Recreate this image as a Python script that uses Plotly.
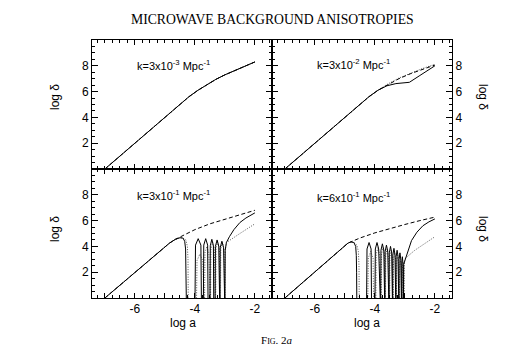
import plotly.graph_objects as go

# ---------------- data ----------------
# Top-left panel, k = 3x10^-3 Mpc^-1 (all three curves coincide)
tl_x = [-7.0, -6.0, -5.0, -4.5, -4.2, -3.9, -3.6, -3.3, -3.0, -2.5, -2.0]
tl_y = [0.0, 2.0, 4.0, 5.0, 5.6, 6.1, 6.55, 6.95, 7.3, 7.8, 8.3]

# Top-right panel, k = 3x10^-2 Mpc^-1
tr_solid_x = [-7.0, -6.0, -5.0, -4.5, -4.2, -3.9, -3.6, -3.3, -3.05, -2.85, -2.5, -2.0]
tr_solid_y = [0.0, 2.0, 4.0, 5.0, 5.6, 6.1, 6.45, 6.62, 6.7, 6.72, 7.25, 8.0]
tr_dot_x = [-7.0, -6.0, -5.0, -4.5, -4.2, -3.9, -3.6, -3.2, -2.8, -2.4, -2.0]
tr_dot_y = [0.0, 2.0, 4.0, 5.0, 5.6, 6.1, 6.55, 7.05, 7.45, 7.8, 8.12]
tr_dash_x = [-7.0, -6.0, -5.0, -4.5, -4.2, -3.9, -3.6, -3.2, -2.8, -2.4, -2.0]
tr_dash_y = [0.0, 2.0, 4.0, 5.0, 5.6, 6.1, 6.5, 7.0, 7.4, 7.75, 8.06]

# Bottom-left panel, k = 3x10^-1 Mpc^-1
bl_solid_x = [-7.0, -6.0, -5.2, -4.85, -4.65, -4.5, -4.4, -4.34, -4.31, -4.29, -4.28,
              -4.00, -3.98, -3.89, -3.80, -3.78,
              -3.72, -3.705, -3.64, -3.575, -3.56,
              -3.50, -3.487, -3.435, -3.383, -3.37,
              -3.33, -3.316, -3.26, -3.204, -3.19,
              -3.17, -3.156, -3.10, -3.044, -3.03,
              -3.0, -2.99, -2.95, -2.85, -2.7, -2.5, -2.3, -2.0]
bl_solid_y = [0.0, 2.0, 3.6, 4.25, 4.55, 4.67, 4.65, 4.4, 3.8, 2.5, -1.0,
              -1.0, 4.1, 4.6, 4.1, -1.0,
              -1.0, 4.1, 4.6, 4.1, -1.0,
              -1.0, 4.05, 4.55, 4.05, -1.0,
              -1.0, 4.0, 4.5, 4.0, -1.0,
              -1.0, 3.9, 4.4, 3.9, -1.0,
              -1.0, 3.7, 4.3, 4.75, 5.3, 5.85, 6.2, 6.6]
bl_dot_x = [-7.0, -6.0, -5.2, -4.85, -4.65, -4.5, -4.4, -4.3, -4.25, -4.23, -4.22,
            -3.95, -3.93, -3.835, -3.74, -3.72,
            -3.68, -3.665, -3.60, -3.535, -3.52,
            -3.48, -3.466, -3.41, -3.354, -3.34,
            -3.31, -3.296, -3.24, -3.184, -3.17,
            -3.15, -3.137, -3.085, -3.033, -3.02,
            -3.0, -2.99, -2.95, -2.5, -2.0]
bl_dot_y = [0.0, 2.0, 3.6, 4.25, 4.55, 4.67, 4.65, 4.5, 4.0, 3.0, -1.0,
            -1.0, 2.9, 3.4, 2.9, -1.0,
            -1.0, 3.5, 4.0, 3.5, -1.0,
            -1.0, 3.8, 4.3, 3.8, -1.0,
            -1.0, 3.85, 4.35, 3.85, -1.0,
            -1.0, 3.8, 4.3, 3.8, -1.0,
            -1.0, 3.7, 4.3, 5.0, 5.75]
bl_dash_x = [-7.0, -6.0, -5.2, -4.85, -4.65, -4.45, -4.2, -4.0, -3.5, -3.0, -2.5, -2.0]
bl_dash_y = [0.0, 2.0, 3.6, 4.25, 4.55, 4.8, 5.05, 5.3, 5.75, 6.1, 6.45, 6.8]

# Bottom-right panel, k = 6x10^-1 Mpc^-1
br_solid_x = [-7.0, -6.0, -5.3, -5.05, -4.9, -4.8, -4.7, -4.64, -4.62, -4.61, -4.6,
              -4.28, -4.263, -4.195, -4.127, -4.11,
              -4.00, -3.986, -3.93, -3.874, -3.86,
              -3.81, -3.798, -3.75, -3.702, -3.69,
              -3.67, -3.659, -3.615, -3.571, -3.56,
              -3.53, -3.52, -3.48, -3.44, -3.43,
              -3.41, -3.401, -3.365, -3.329, -3.32,
              -3.30, -3.292, -3.26, -3.228, -3.22,
              -3.20, -3.193, -3.165, -3.137, -3.13,
              -3.11, -3.105, -3.085, -3.065, -3.06,
              -3.05, -3.04, -3.0, -2.92, -2.78, -2.6, -2.4, -2.2, -2.0]
br_solid_y = [0.0, 2.0, 3.4, 3.95, 4.25, 4.35, 4.3, 4.0, 3.3, 2.0, -1.0,
              -1.0, 3.8, 4.3, 3.8, -1.0,
              -1.0, 3.8, 4.3, 3.8, -1.0,
              -1.0, 3.7, 4.2, 3.7, -1.0,
              -1.0, 3.6, 4.1, 3.6, -1.0,
              -1.0, 3.5, 4.0, 3.5, -1.0,
              -1.0, 3.35, 3.85, 3.35, -1.0,
              -1.0, 3.2, 3.7, 3.2, -1.0,
              -1.0, 3.0, 3.5, 3.0, -1.0,
              -1.0, 2.7, 3.2, 2.7, -1.0,
              -1.0, 2.6, 2.9, 3.5, 4.45, 5.1, 5.6, 5.9, 6.13]
br_dot_x = [-7.0, -6.0, -5.3, -5.05, -4.9, -4.8, -4.7, -4.6, -4.55, -4.53, -4.52,
            -4.24, -4.22, -4.14, -4.06, -4.04,
            -3.97, -3.956, -3.90, -3.844, -3.83,
            -3.79, -3.778, -3.73, -3.682, -3.67,
            -3.65, -3.639, -3.595, -3.551, -3.54,
            -3.51, -3.50, -3.46, -3.42, -3.41,
            -3.39, -3.381, -3.345, -3.309, -3.30,
            -3.28, -3.272, -3.24, -3.208, -3.20,
            -3.18, -3.173, -3.145, -3.117, -3.11,
            -3.09, -3.085, -3.065, -3.045, -3.04,
            -3.03, -3.02, -3.0, -2.67, -2.3, -2.0]
br_dot_y = [0.0, 2.0, 3.4, 3.95, 4.25, 4.35, 4.3, 4.1, 3.6, 2.5, -1.0,
            -1.0, 3.1, 3.6, 3.1, -1.0,
            -1.0, 3.4, 3.9, 3.4, -1.0,
            -1.0, 3.4, 3.9, 3.4, -1.0,
            -1.0, 3.3, 3.8, 3.3, -1.0,
            -1.0, 3.2, 3.7, 3.2, -1.0,
            -1.0, 3.0, 3.5, 3.0, -1.0,
            -1.0, 2.8, 3.3, 2.8, -1.0,
            -1.0, 2.5, 3.0, 2.5, -1.0,
            -1.0, 2.3, 2.8, 2.3, -1.0,
            -1.0, 2.6, 3.05, 3.7, 4.25, 4.75]
br_dash_x = [-7.0, -6.0, -5.3, -5.05, -4.9, -4.7, -4.5, -4.0, -3.5, -3.0, -2.5, -2.0]
br_dash_y = [0.0, 2.0, 3.4, 3.95, 4.25, 4.45, 4.65, 5.05, 5.4, 5.7, 6.0, 6.27]

panel_labels = ["k=3x10<sup>-3</sup> Mpc<sup>-1</sup>",
                "k=3x10<sup>-2</sup> Mpc<sup>-1</sup>",
                "k=3x10<sup>-1</sup> Mpc<sup>-1</sup>",
                "k=6x10<sup>-1</sup> Mpc<sup>-1</sup>"]
x_tickvals = [-7, -6, -5, -4, -3, -2]
x_ticktext = ["", "-6", "", "-4", "", "-2"]
y_tickvals = [0, 2, 4, 6, 8, 10]
y_ticktext = ["", "2", "4", "6", "8", ""]
title_text = "MICROWAVE BACKGROUND ANISOTROPIES"
fig_text = "F<span style='font-size:8px'>IG</span>. 2<i>a</i>"

# ---------------- figure ----------------
W, H = 511, 351
XR = [-7.43, -1.43]
YR = [0, 10]

fig = go.Figure()

DOT = dict(color="#555555", width=1, dash="1px,1.5px")
DASH = dict(color="black", width=1, dash="4px,2.5px")
SOLID = dict(color="black", width=1)

panels = [
    (1, (tl_x, tl_y), (tl_x, tl_y), (tl_x, tl_y)),
    (2, (tr_solid_x, tr_solid_y), (tr_dot_x, tr_dot_y), (tr_dash_x, tr_dash_y)),
    (3, (bl_solid_x, bl_solid_y), (bl_dot_x, bl_dot_y), (bl_dash_x, bl_dash_y)),
    (4, (br_solid_x, br_solid_y), (br_dot_x, br_dot_y), (br_dash_x, br_dash_y)),
]
for n, s, d, da in panels:
    xa = "x" if n == 1 else f"x{n}"
    ya = "y" if n == 1 else f"y{n}"
    fig.add_trace(go.Scatter(x=d[0], y=d[1], mode="lines", line=DOT, xaxis=xa, yaxis=ya))
    fig.add_trace(go.Scatter(x=da[0], y=da[1], mode="lines", line=DASH, xaxis=xa, yaxis=ya))
    fig.add_trace(go.Scatter(x=s[0], y=s[1], mode="lines", line=SOLID, xaxis=xa, yaxis=ya))

xl = [92 / W, 272 / W]
xr = [272 / W, 452 / W]
yt = [1 - 169 / H, 1 - 40 / H]
yb = [1 - 298 / H, 1 - 169 / H]

def xaxis(domain, anchor, labels):
    return dict(domain=domain, anchor=anchor, range=XR, showline=True, linecolor="black",
                mirror="ticks", ticks="inside", ticklen=5, tickwidth=1,
                tickcolor="black", tickmode="array", tickvals=x_tickvals, ticktext=x_ticktext,
                showticklabels=labels, showgrid=False, zeroline=False,
                tickfont=dict(size=12, color="black"),
                minor=dict(tickmode="linear", tick0=0, dtick=0.25, ticks="inside",
                           ticklen=3, tickwidth=1, tickcolor="black"))

def yaxis(domain, anchor, side):
    return dict(domain=domain, anchor=anchor, range=YR, side=side, showline=True,
                linecolor="black", mirror="ticks", ticks="inside", ticklen=6,
                tickwidth=1, tickcolor="black", tickmode="array", tickvals=y_tickvals,
                ticktext=y_ticktext, showgrid=False, zeroline=False,
                tickfont=dict(size=12, color="black"),
                minor=dict(tickmode="linear", tick0=0, dtick=0.5, ticks="inside",
                           ticklen=3, tickwidth=1, tickcolor="black"))

fig.update_layout(
    width=W, height=H, margin=dict(l=0, r=0, t=0, b=0),
    paper_bgcolor="white", plot_bgcolor="white", showlegend=False,
    font=dict(family="Liberation Sans, Arial, sans-serif", size=12, color="black"),
    xaxis=xaxis(xl, "y", False), yaxis=yaxis(yt, "x", "left"),
    xaxis2=xaxis(xr, "y2", False), yaxis2=yaxis(yt, "x2", "right"),
    xaxis3=xaxis(xl, "y3", True), yaxis3=yaxis(yb, "x3", "left"),
    xaxis4=xaxis(xr, "y4", True), yaxis4=yaxis(yb, "x4", "right"),
)

def A(text, px, py, size=12, family=None, xanchor="center", angle=0):
    f = dict(size=size, color="black")
    if family:
        f["family"] = family
    return dict(text=text, x=px / W, y=1 - py / H, xref="paper", yref="paper",
                xanchor=xanchor, yanchor="middle", showarrow=False, textangle=angle, font=f)

SERIF = "Liberation Serif, Times New Roman, serif"
ann = [A(title_text, 272, 20, 13.7, SERIF), A(fig_text, 277, 340, 11, SERIF)]
for yy in (97, 229):
    ann.append(A("log δ", 55, yy, 12, angle=-90))
    ann.append(A("log δ", 483, yy, 12, angle=90))
for xx in (183, 367):
    ann.append(A("log a", xx, 323, 12))
pos = [(135, 65), (315, 64), (135, 195), (315, 197)]
for lab, (px, py) in zip(panel_labels, pos):
    ann.append(A(lab, px, py, 11, xanchor="left"))
fig.update_layout(annotations=ann)

fig.write_html("out.html")
